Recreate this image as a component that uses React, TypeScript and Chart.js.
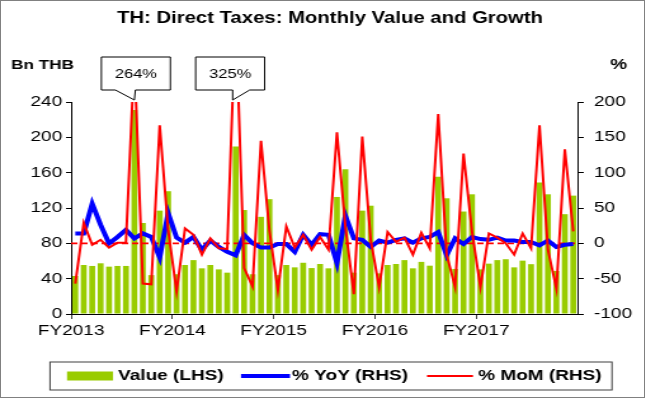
import React, { useEffect, useRef } from 'react';
import { Chart, registerables } from 'chart.js';

Chart.register(...registerables);

// ---------------- data ----------------
const MONTHS = [
  'Oct-12', 'Nov-12', 'Dec-12', 'Jan-13', 'Feb-13', 'Mar-13', 'Apr-13', 'May-13', 'Jun-13', 'Jul-13', 'Aug-13', 'Sep-13',
  'Oct-13', 'Nov-13', 'Dec-13', 'Jan-14', 'Feb-14', 'Mar-14', 'Apr-14', 'May-14', 'Jun-14', 'Jul-14', 'Aug-14', 'Sep-14',
  'Oct-14', 'Nov-14', 'Dec-14', 'Jan-15', 'Feb-15', 'Mar-15', 'Apr-15', 'May-15', 'Jun-15', 'Jul-15', 'Aug-15', 'Sep-15',
  'Oct-15', 'Nov-15', 'Dec-15', 'Jan-16', 'Feb-16', 'Mar-16', 'Apr-16', 'May-16', 'Jun-16', 'Jul-16', 'Aug-16', 'Sep-16',
  'Oct-16', 'Nov-16', 'Dec-16', 'Jan-17', 'Feb-17', 'Mar-17', 'Apr-17', 'May-17', 'Jun-17', 'Jul-17', 'Aug-17', 'Sep-17',
];

const FY_LABELS = ['FY2013', 'FY2014', 'FY2015', 'FY2016', 'FY2017'];

const VALUE_LHS = [
  43, 55.5, 54.4, 57.4, 53.6, 54.4, 54.4, 231, 103, 44, 117, 139,
  45, 55.5, 61, 51.7, 55.5, 50.5, 46.8, 189.5, 117.7, 45, 110, 130,
  44, 55.5, 52.8, 58, 52, 56.6, 51.7, 132.5, 164, 46.8, 117, 122.6,
  46, 55.5, 56.6, 61, 51.7, 59, 54.7, 155.5, 131, 51, 116, 135.5,
  50.5, 57, 61, 62, 52.8, 60.4, 56.4, 149, 135.5, 48.7, 113, 134,
];

const YOY_RHS = [
  14, 14, 56, 26, 0, 9, 19, 7, 14, 9, -20, 43,
  8, 1, 9, -9, 4, -5, -12, -17, 12, 0, -6, -6,
  -1, -1, -12, 12, -2, 13, 12, -28, 39, 7, 5, -5,
  4, 1, 5, 7, 1, 7, 9, 16, -17, 7, -1, 9,
  6, 5, 8, 4, 4, 2, 2, -3, 4, -5, -2, -1,
];

const MOM_RHS = [
  -57, 29, -2, 5, -6, 1, 1, 264, -57, -58, 167, 19,
  -68, 21, 12, -16, 7, -7, -8, 325, -35, -61, 145, 18,
  -66, 24, -6, 12, -9, 9, -9, 157, 24, -72, 151, 5,
  -62, 16, 2, 8, -16, 15, -7, 183, -16, -62, 127, 17,
  -62, 14, 8, 0, -16, 14, -7, 167, -9, -64, 133, 17,
];

const LHS_RANGE = [0, 240, 40];
const RHS_RANGE = [-100, 200, 50];

const CALLOUT_INDEX = [7, 19];
const CALLOUT_TEXT = ['264%', '325%'];

const TITLE = 'TH: Direct Taxes: Monthly Value and Growth';
const LEFT_TITLE = 'Bn THB';
const RIGHT_TITLE = '%';
const LEGEND_LABELS = ['Value (LHS)', '% YoY (RHS)', '% MoM (RHS)'];

// ---------------- styling / layout ----------------
const GREEN = '#99CC00';
const BLUE = '#0000FF';
const RED = '#FF0000';
const FONT = "'Liberation Sans', Arial, Helvetica, sans-serif";

const OUT_W = 646;
const OUT_H = 401;
const CW = 509; // canvas width, stretched horizontally to OUT_W
const S = OUT_W / CW;
const d = (x: number) => x / S; // displayed x -> canvas x

const LEFT_W = 56;
const RIGHT_W = 54;
const CAT_W = (CW - LEFT_W - RIGHT_W) / MONTHS.length;

const decor = {
  id: 'decor',
  afterDatasetDraw(chart: any, args: any) {
    if (args.index !== 0) return;
    const { ctx, chartArea } = chart;
    const y0 = chart.scales.y1.getPixelForValue(0);
    ctx.save();
    ctx.strokeStyle = RED;
    ctx.lineWidth = 1.8;
    ctx.setLineDash([5, 3]);
    ctx.beginPath();
    ctx.moveTo(chartArea.left, y0);
    ctx.lineTo(chartArea.right, y0);
    ctx.stroke();
    ctx.restore();
  },
  afterDraw(chart: any) {
    const { ctx, chartArea } = chart;
    const xs = chart.scales.x;
    ctx.save();
    ctx.fillStyle = '#000';
    ctx.textBaseline = 'middle';

    // title
    ctx.font = `bold 16px ${FONT}`;
    ctx.textAlign = 'center';
    ctx.fillText(TITLE, d(330), 19);

    // axis titles
    ctx.font = `bold 13.5px ${FONT}`;
    ctx.textAlign = 'left';
    ctx.fillText(LEFT_TITLE, d(11), 65);
    ctx.font = `bold 15px ${FONT}`;
    ctx.fillText(RIGHT_TITLE, d(610), 65);

    // callouts
    const shapes = [
      { l: -33, r: 36, b1: -19, b2: 1, dx: 0 },
      { l: -37, r: 32, b1: 0, b2: 17, dx: -3 },
    ];
    CALLOUT_INDEX.forEach((idx, k) => {
      const sh = shapes[k];
      const tip = xs.getPixelForValue(idx) + d(sh.dx);
      const tipY = chartArea.top - 2;
      const top = 57;
      const bot = 90;
      const L = tip + d(sh.l);
      const R = tip + d(sh.r);
      ctx.beginPath();
      ctx.moveTo(tip + d(sh.b1), bot);
      ctx.lineTo(L, bot);
      ctx.lineTo(L, top);
      ctx.lineTo(R, top);
      ctx.lineTo(R, bot);
      ctx.lineTo(tip + d(sh.b2), bot);
      ctx.lineTo(tip, tipY);
      ctx.closePath();
      ctx.fillStyle = '#fff';
      ctx.fill();
      ctx.strokeStyle = '#000';
      ctx.lineWidth = 1;
      ctx.stroke();
      ctx.fillStyle = '#000';
      ctx.font = `13px ${FONT}`;
      ctx.textAlign = 'center';
      ctx.fillText(CALLOUT_TEXT[k], (L + R) / 2, (top + bot) / 2 + 1);
    });

    // legend
    const ly = 376;
    ctx.strokeStyle = '#404040';
    ctx.lineWidth = 1;
    ctx.strokeRect(d(50), 362, d(612) - d(50), 28);
    ctx.fillStyle = GREEN;
    ctx.fillRect(d(67), ly - 4.5, d(113) - d(67), 9);
    ctx.strokeStyle = BLUE;
    ctx.lineWidth = 4;
    ctx.beginPath();
    ctx.moveTo(d(241), ly);
    ctx.lineTo(d(290), ly);
    ctx.stroke();
    ctx.strokeStyle = RED;
    ctx.lineWidth = 2;
    ctx.beginPath();
    ctx.moveTo(d(427), ly);
    ctx.lineTo(d(473), ly);
    ctx.stroke();
    ctx.fillStyle = '#000';
    ctx.font = `bold 15px ${FONT}`;
    ctx.textAlign = 'left';
    ctx.fillText(LEGEND_LABELS[0], d(118), ly);
    ctx.fillText(LEGEND_LABELS[1], d(292), ly);
    ctx.fillText(LEGEND_LABELS[2], d(478), ly);
    ctx.restore();
  },
};

export default function App() {
  const ref = useRef<HTMLCanvasElement>(null);

  useEffect(() => {
    document.body.style.margin = '0';
    const canvas = ref.current;
    if (!canvas) return;
    Chart.defaults.font.family = FONT;
    const chart = new Chart(canvas, {
      type: 'bar',
      data: {
        labels: MONTHS,
        datasets: [
          {
            type: 'bar',
            label: LEGEND_LABELS[0],
            data: VALUE_LHS,
            backgroundColor: GREEN,
            yAxisID: 'y',
            order: 3,
            categoryPercentage: 1,
            barPercentage: 0.7,
          } as any,
          {
            type: 'line',
            label: LEGEND_LABELS[1],
            data: YOY_RHS,
            borderColor: BLUE,
            borderWidth: 4,
            pointRadius: 0,
            tension: 0,
            fill: false,
            yAxisID: 'y1',
            order: 2,
          } as any,
          {
            type: 'line',
            label: LEGEND_LABELS[2],
            data: MOM_RHS,
            borderColor: RED,
            borderWidth: 2,
            pointRadius: 0,
            tension: 0,
            fill: false,
            yAxisID: 'y1',
            order: 1,
          } as any,
        ],
      },
      options: {
        responsive: false,
        animation: false,
        devicePixelRatio: 1,
        layout: { padding: { top: 102, left: 0, right: 0, bottom: 0 } },
        plugins: {
          legend: { display: false },
          title: { display: false },
          tooltip: { enabled: false },
        },
        scales: {
          x: {
            type: 'category',
            offset: true,
            grid: {
              offset: true,
              drawOnChartArea: false,
              drawTicks: true,
              tickLength: 5,
              color: (c: any) => (typeof c.index === 'number' && c.index % 12 === 0 ? '#404040' : 'rgba(0,0,0,0)'),
            },
            border: { display: true, color: '#000', width: 1 },
            ticks: {
              autoSkip: false,
              maxRotation: 0,
              minRotation: 0,
              labelOffset: -CAT_W / 2,
              padding: 3,
              color: '#000',
              font: { size: 15 },
              callback: (_v: any, i: number) => (i % 12 === 0 ? FY_LABELS[i / 12] : ''),
            },
            afterFit: (s: any) => {
              s.height = 87;
            },
          },
          y: {
            position: 'left',
            min: LHS_RANGE[0],
            max: LHS_RANGE[1],
            grid: { drawOnChartArea: false, tickLength: 4, color: '#000' },
            border: { display: true, color: '#000', width: 1 },
            ticks: { stepSize: LHS_RANGE[2], color: '#000', font: { size: 15 }, padding: 3 },
            afterFit: (s: any) => {
              s.width = LEFT_W;
            },
          },
          y1: {
            position: 'right',
            min: RHS_RANGE[0],
            max: RHS_RANGE[1],
            grid: { drawOnChartArea: false, tickLength: 5, color: '#000' },
            border: { display: true, color: '#000', width: 1 },
            ticks: { stepSize: RHS_RANGE[2], color: '#000', font: { size: 15 }, padding: 8 },
            afterFit: (s: any) => {
              s.width = RIGHT_W;
            },
          },
        },
      } as any,
      plugins: [decor as any],
    });
    return () => chart.destroy();
  }, []);

  return (
    <div style={{ position: 'absolute', left: 0, top: 0, width: OUT_W, height: OUT_H, overflow: 'hidden', background: '#fff' }}>
      <div style={{ position: 'absolute', left: 0, top: 0, width: CW, height: OUT_H, transform: `scaleX(${S})`, transformOrigin: '0 0' }}>
        <canvas ref={ref} width={CW} height={OUT_H} style={{ display: 'block' }} />
      </div>
      <div style={{ position: 'absolute', left: 0, top: 0, width: 643, height: 396, border: '1px solid #808080', pointerEvents: 'none' }} />
    </div>
  );
}
